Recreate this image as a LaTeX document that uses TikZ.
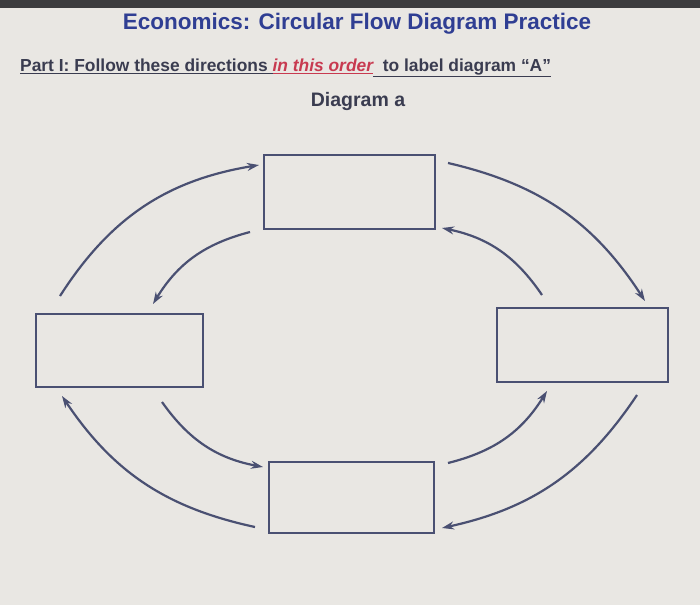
\documentclass[tikz,border=0pt]{standalone}
\usepackage{fontspec}
\setmainfont{Liberation Sans}
\usetikzlibrary{arrows.meta}
\definecolor{bg}{HTML}{E9E7E3}
\definecolor{topbar}{HTML}{3C3C3E}
\definecolor{titleblue}{HTML}{2F3E93}
\definecolor{darktext}{HTML}{3A3C50}
\definecolor{redtext}{HTML}{C83A50}
\definecolor{linecol}{HTML}{4A5072}
\tikzset{
  blank/.style={draw=linecol, line width=2.4pt, fill=none},
  flow/.style={draw=linecol, line width=2.2pt, -{Stealth[length=12pt,width=8pt]}},
}
\begin{document}
\begin{tikzpicture}[x=1pt,y=-1pt]
\useasboundingbox (0,0) rectangle (700,605);
\fill[bg] (0,0) rectangle (700,605);
\fill[topbar] (0,0) rectangle (700,8);
\node[text=titleblue, font=\fontsize{22.5}{26}\selectfont\bfseries, inner sep=0pt] (title) at (357,24) {Economics: Circular Flow Diagram Practice};
\node[text=darktext, font=\fontsize{17.4}{20}\selectfont\bfseries, inner sep=0pt, anchor=west] (part) at (20,68) {\underline{Part I: Follow these directions }\textcolor{redtext}{\underline{\itshape in this order}}\underline{\ \ to label diagram “A”}};
\node[text=darktext, font=\fontsize{19.5}{23}\selectfont\bfseries, inner sep=0pt] (diag) at (358,101) {Diagram a};
% boxes
\node[blank, minimum width=171pt, minimum height=74pt, inner sep=0pt] (top) at (349.5,192) {};
\node[blank, minimum width=167pt, minimum height=73pt, inner sep=0pt] (left) at (119.5,350.5) {};
\node[blank, minimum width=171pt, minimum height=74pt, inner sep=0pt] (right) at (582.5,345) {};
\node[blank, minimum width=165pt, minimum height=71pt, inner sep=0pt] (bottom) at (351.5,497.5) {};
% arrow endpoints
\coordinate (a1s) at (60,296);  \coordinate (a1e) at (259,165);
\coordinate (a2s) at (250,232); \coordinate (a2e) at (153,304);
\coordinate (a3s) at (448,163); \coordinate (a3e) at (645,301);
\coordinate (a4s) at (542,295); \coordinate (a4e) at (442,228);
\coordinate (a5s) at (255,527); \coordinate (a5e) at (62,396);
\coordinate (a6s) at (162,402); \coordinate (a6e) at (263,467);
\coordinate (a7s) at (448,463); \coordinate (a7e) at (547,391);
\coordinate (a8s) at (637,395); \coordinate (a8e) at (442,528);
\draw[flow] (a1s) to[bend left=24] (a1e);
\draw[flow] (a2s) to[bend right=22] (a2e);
\draw[flow] (a3s) to[bend left=22] (a3e);
\draw[flow] (a4s) to[bend right=22] (a4e);
\draw[flow] (a5s) to[bend left=22] (a5e);
\draw[flow] (a6s) to[bend right=22] (a6e);
\draw[flow] (a7s) to[bend right=22] (a7e);
\draw[flow] (a8s) to[bend left=22] (a8e);
\end{tikzpicture}
\end{document}
